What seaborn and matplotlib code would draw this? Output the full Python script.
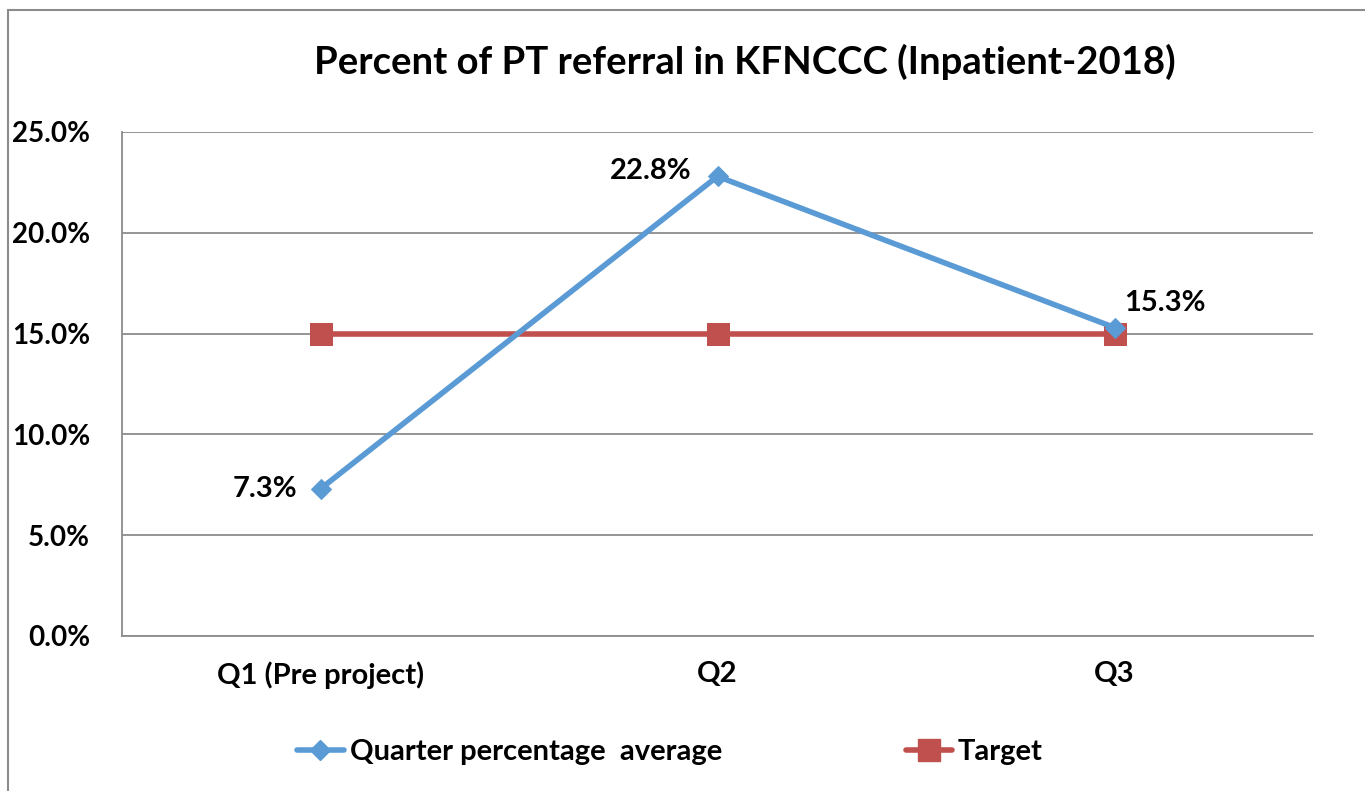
import pandas as pd
import seaborn as sns
import matplotlib.pyplot as plt
from matplotlib.patches import Rectangle
from matplotlib.ticker import FuncFormatter

quarters = ['Q1 (Pre project)', 'Q2', 'Q3']
quarter_avg = [7.3, 22.8, 15.3]
target = [15.0, 15.0, 15.0]
series_names = ['Quarter percentage  average', 'Target']

df = pd.DataFrame({
    'quarter': quarters * 2,
    'value': quarter_avg + target,
    'series': [series_names[0]] * 3 + [series_names[1]] * 3,
})

sns.set_style('white')
plt.rcParams['font.family'] = ['Lato', 'DejaVu Sans']
plt.rcParams['font.weight'] = 'bold'
plt.rcParams['text.color'] = 'black'
plt.rcParams['xtick.labelcolor'] = 'black'
plt.rcParams['ytick.labelcolor'] = 'black'
FS = 21

fig = plt.figure(figsize=(13.65, 7.91), dpi=100)
ax = fig.add_axes([122 / 1365, 1 - 636 / 791, (1313 - 122) / 1365, (636 - 132) / 791])

# outer chart border
fig.patches.append(Rectangle((8 / 1365, -0.05), 1.2, 1 - 10 / 791 + 0.05,
                             transform=fig.transFigure, fill=False,
                             edgecolor='#8c8c8c', linewidth=1.5, zorder=0))

palette = {series_names[0]: '#5b9bd5', series_names[1]: '#c0504d'}
sns.lineplot(data=df, x='quarter', y='value', hue='series',
             palette=palette, linewidth=4, sort=False, ax=ax, legend=False)
# markers per series
for line, name in zip(ax.lines, series_names):
    if name == series_names[0]:
        line.set_marker('D'); line.set_markersize(10)
    else:
        line.set_marker('s'); line.set_markersize(16)
    line.set_markeredgecolor(palette[name])
    line.set_markerfacecolor(palette[name])
ax.lines[1].set_zorder(3)
ax.lines[0].set_zorder(4)

ax.set_xlim(-0.5, 2.5)
ax.set_ylim(0, 25)
ax.set_yticks([0, 5, 10, 15, 20, 25])
ax.yaxis.set_major_formatter(FuncFormatter(lambda v, p: f'{v:.1f}%'))
ax.grid(axis='y', color='#8c8c8c', linewidth=1.3)
ax.set_axisbelow(True)
for s in ['top', 'right']:
    ax.spines[s].set_visible(False)
for s in ['left', 'bottom']:
    ax.spines[s].set_color('#8c8c8c')
    ax.spines[s].set_linewidth(1.3)

ax.set_xticks([-0.5, 0.5, 1.5, 2.5], minor=False)
ax.set_xticklabels([])
ax.set_xticks([0, 1, 2], minor=True)
ax.set_xticklabels(quarters, minor=True, fontsize=FS, fontweight='bold')
ax.tick_params(axis='x', which='major', length=10, color='#8c8c8c', width=1.3)
ax.tick_params(axis='x', which='minor', length=0, pad=18)
ax.tick_params(axis='y', length=10, color='#8c8c8c', width=1.3, labelsize=20, pad=13)
for lbl in ax.get_yticklabels():
    lbl.set_fontweight('bold')
ax.set_xlabel('')
ax.set_ylabel('')

# data labels
ax.annotate(f'{quarter_avg[0]:.1f}%', (0, quarter_avg[0]), xytext=(-17, 0),
            textcoords='offset points', ha='right', va='center', fontsize=FS, fontweight='bold')
ax.annotate(f'{quarter_avg[1]:.1f}%', (1, quarter_avg[1]), xytext=(-19, 4),
            textcoords='offset points', ha='right', va='center', fontsize=FS, fontweight='bold')
ax.annotate(f'{quarter_avg[2]:.1f}%', (2, quarter_avg[2]), xytext=(7, 18),
            textcoords='offset points', ha='left', va='center', fontsize=FS, fontweight='bold')

fig.text(745 / 1365, 1 - 62 / 791, 'Percent of PT referral in KFNCCC (Inpatient-2018)',
         ha='center', va='center', fontsize=27.5, fontweight='bold')

handles = [plt.Line2D([], [], color=palette[series_names[0]], lw=4, marker='D', markersize=10),
           plt.Line2D([], [], color=palette[series_names[1]], lw=4, marker='s', markersize=16)]
fig.legend(handles, series_names, loc='center', bbox_to_anchor=(670 / 1365, 1 - 752 / 791),
           ncol=2, frameon=False, handlelength=1.6, handletextpad=0.2,
           columnspacing=6.3, prop={'weight': 'bold', 'size': FS})

fig.savefig('out.png', dpi=100)
